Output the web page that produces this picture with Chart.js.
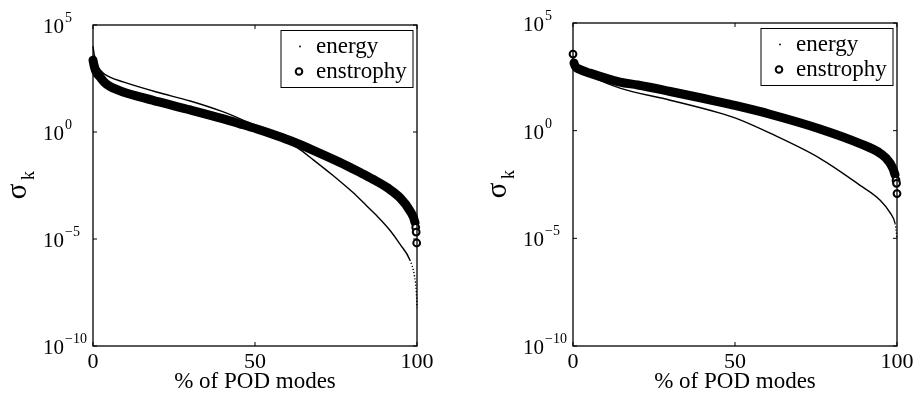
<!DOCTYPE html>
<html>
<head>
<meta charset="utf-8">
<script src="https://cdn.jsdelivr.net/npm/chart.js@4.4.1/dist/chart.umd.min.js"></script>
<style>
  html, body { margin: 0; padding: 0; background: #fff; }
  #wrap { position: relative; width: 917px; height: 396px; }
  canvas { position: absolute; top: 0; }
</style>
</head>
<body>
<div id="wrap">
  <canvas id="left" width="458" height="396" style="left:0"></canvas>
  <canvas id="right" width="459" height="396" style="left:458px"></canvas>
</div>
<script>
/* ─── Werte (x in % der POD-Moden, y = sigma_k) ─── */
const pctEnstrophyL = [0, 0.5, 1, 2.2, 3.5, 5.2, 8, 10, 14.5, 20, 30, 40, 45.4, 50.6, 55, 60.8, 68, 76.2, 82, 86.4, 91, 94.8, 97.8, 99.4, 99.6, 99.75, 99.9];
const sigEnstrophyL = [2.3e3, 1e3, 630, 370, 210, 135, 88, 68, 44, 26, 10.7, 4.2, 2.4, 1.38, 0.83, 0.40, 0.14, 0.038, 0.0138, 6.2e-3, 2.4e-3, 8.3e-4, 2.1e-4, 5.8e-5, 3.5e-5, 2.1e-5, 6.5e-6];
const pctEnergyL = [0, 0.4, 1.2, 2.2, 5.2, 9.3, 19.6, 30, 40, 48, 55, 60.8, 63.9, 68, 74, 76.2, 80, 84.5, 88, 91.7, 94.8, 97.8, 99.3, 99.8, 100];
const sigEnergyL = [1e4, 4.0e3, 1.6e3, 790, 370, 220, 74, 28, 8.9, 2.8, 0.95, 0.30, 0.15, 0.05, 9.5e-3, 5.0e-3, 1.6e-3, 3.5e-4, 1.05e-4, 2.5e-5, 5.6e-6, 1.05e-6, 1.6e-7, 3.2e-8, 6.3e-9];

const pctEnstrophyR = [0, 0.3, 2, 5.2, 14.5, 20, 30, 40, 45.4, 50.6, 60.8, 76.2, 88.6, 94.8, 97.8, 99.4, 99.7, 99.85, 100];
const sigEnstrophyR = [3.6e3, 1.4e3, 710, 470, 180, 132, 66, 32, 21, 14, 5.8, 1.2, 0.25, 0.089, 0.032, 8.9e-3, 5.0e-3, 3.6e-3, 1.2e-3];
const pctEnergyR = [0, 2, 5.2, 14.5, 30, 45.4, 50.6, 60.8, 76.2, 88.6, 94.8, 97.8, 99.4, 99.8, 100];
const sigEnergyR = [1.3e3, 630, 350, 95, 26, 6.5, 3.6, 0.76, 0.052, 2.9e-3, 5.9e-4, 1.6e-4, 5.0e-5, 2.0e-5, 1.0e-5];

const xTicks = [0, 50, 100];
const yTicks = [1e5, 1, 1e-5, 1e-10];
const yTickExps = ['5', '0', '\u22125', '\u221210'];
const legendLabels = ['energy', 'enstrophy'];
const xTitle = '% of POD modes';

const SERIF = '"Liberation Serif", "Times New Roman", serif';

function pts(xs, ys) { return xs.map((x, i) => ({ x, y: ys[i] })); }

/* ─── Matlab-artiger Rahmen, Ticks nach innen, Beschriftung, Legende ─── */
const matlabAxes = {
  id: 'matlabAxes',
  afterDatasetsDraw(chart) {
    const { ctx, chartArea: a, scales: { x, y } } = chart;
    ctx.save();
    ctx.strokeStyle = '#000';
    ctx.fillStyle = '#000';
    ctx.lineWidth = 1.3;
    ctx.strokeRect(a.left, a.top, a.right - a.left, a.bottom - a.top);

    const seg = (x0, y0, x1, y1) => { ctx.beginPath(); ctx.moveTo(x0, y0); ctx.lineTo(x1, y1); ctx.stroke(); };
    ctx.lineWidth = 1;
    yTicks.forEach(v => {
      const py = y.getPixelForValue(v);
      seg(a.left, py, a.left + 4, py);
      seg(a.right - 4, py, a.right, py);
    });
    xTicks.forEach(v => {
      const px = x.getPixelForValue(v);
      seg(px, a.bottom, px, a.bottom - 4);
      seg(px, a.top, px, a.top + 4);
    });

    // y tick labels 10^n
    yTicks.forEach((v, i) => {
      const py = y.getPixelForValue(v);
      ctx.font = `21px ${SERIF}`;
      ctx.textAlign = 'right';
      ctx.textBaseline = 'alphabetic';
      ctx.fillText('10', a.left - 29, py + 8);
      ctx.font = `14px ${SERIF}`;
      ctx.textAlign = 'left';
      ctx.fillText(yTickExps[i], a.left - 28, py - 3);
    });

    // x tick labels + title
    ctx.font = `22px ${SERIF}`;
    ctx.textAlign = 'center';
    xTicks.forEach(v => ctx.fillText(String(v), x.getPixelForValue(v), a.bottom + 22));
    ctx.font = `23px ${SERIF}`;
    ctx.fillText(xTitle, (a.left + a.right) / 2, a.bottom + 42);

    // y title sigma_k (rotated)
    ctx.save();
    ctx.translate(a.left - 75, (a.top + a.bottom) / 2 + 6);
    ctx.rotate(-Math.PI / 2);
    ctx.textBaseline = 'middle';
    ctx.font = `29px ${SERIF}`;
    ctx.fillText('\u03c3', 0, 0);
    ctx.font = `18px ${SERIF}`;
    ctx.fillText('k', 16, 11);
    ctx.restore();

    // legend
    const bw = 132, bh = 57;
    const bx = a.right - 4 - bw, by = a.top + 5.5;
    ctx.fillStyle = '#fff';
    ctx.fillRect(bx, by, bw, bh);
    ctx.lineWidth = 1;
    ctx.strokeRect(bx, by, bw, bh);
    ctx.fillStyle = '#000';
    ctx.beginPath(); ctx.arc(bx + 19, by + 16, 0.9, 0, Math.PI * 2); ctx.fill();
    ctx.lineWidth = 2;
    ctx.beginPath(); ctx.arc(bx + 18, by + 41, 3.3, 0, Math.PI * 2); ctx.stroke();
    ctx.font = `23px ${SERIF}`;
    ctx.textAlign = 'left';
    ctx.fillText(legendLabels[0], bx + 35, by + 22);
    ctx.fillText(legendLabels[1], bx + 35, by + 47.5);
    ctx.restore();
  },
};

function makePanel(canvasId, enstro, energy, padding, tailFrom, firstIsolated) {
  const el = document.getElementById(canvasId);
  const n = enstro.length;
  const isCircle = i => i >= n - 3 || (firstIsolated && i === 0);
  return new Chart(el.getContext('2d'), {
    type: 'scatter',
    data: {
      datasets: [
        { label: legendLabels[1], data: enstro, showLine: true, clip: false,
          borderColor: '#000', borderWidth: 9, borderCapStyle: 'round', borderJoinStyle: 'round',
          cubicInterpolationMode: 'monotone',
          pointRadius: c => isCircle(c.dataIndex) ? 3.4 : 0,
          pointBorderWidth: 2, pointBorderColor: '#000', pointBackgroundColor: '#fff',
          segment: {
            borderColor: c => (c.p1DataIndex >= n - 3 || (firstIsolated && c.p0DataIndex === 0)) ? 'rgba(0,0,0,0)' : undefined,
          },
          order: 2 },
        { label: legendLabels[0], data: energy, showLine: true, clip: false,
          borderColor: '#000', borderWidth: 1.4, pointRadius: 0,
          cubicInterpolationMode: 'monotone',
          segment: { borderDash: c => c.p0.parsed.x >= tailFrom ? [1.2, 2] : undefined },
          order: 1 },
      ],
    },
    options: {
      responsive: false, animation: false,
      layout: { padding },
      plugins: { legend: { display: false }, tooltip: { enabled: false } },
      scales: {
        x: { type: 'linear', min: 0, max: 100, display: false },
        y: { type: 'logarithmic', min: 1e-10, max: 1e5, display: false },
      },
    },
    plugins: [matlabAxes],
  });
}

makePanel('left', pts(pctEnstrophyL, sigEnstrophyL), pts(pctEnergyL, sigEnergyL),
  { left: 93, right: 41, top: 25, bottom: 50 }, 97.8, false);
makePanel('right', pts(pctEnstrophyR, sigEnstrophyR), pts(pctEnergyR, sigEnergyR),
  { left: 115, right: 20, top: 23, bottom: 50 }, 99.4, true);
</script>
</body>
</html>
